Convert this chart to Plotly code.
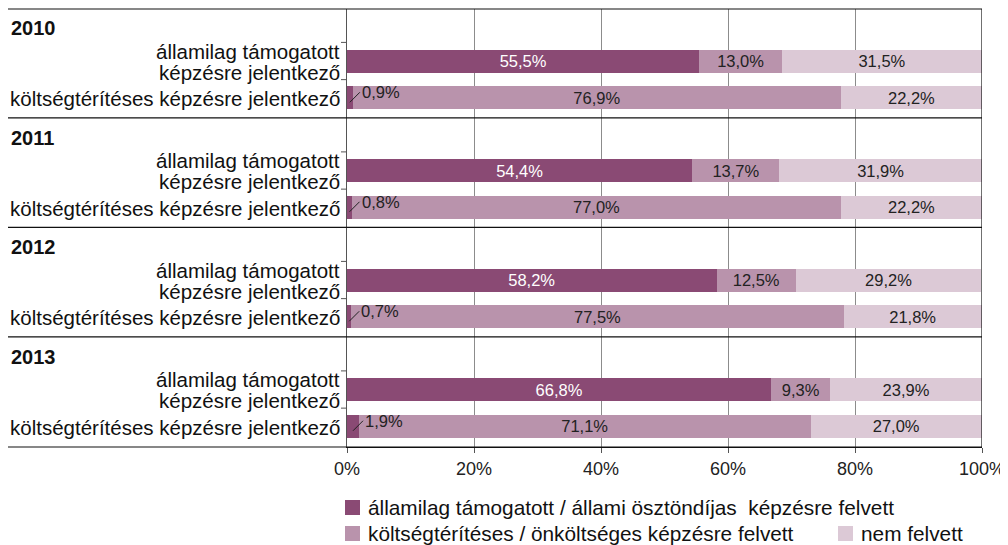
import plotly.graph_objects as go

years = ["2010", "2011", "2012", "2013"]
row_label_state = ["államilag támogatott", "képzésre jelentkező"]
row_label_cost = "költségtérítéses képzésre jelentkező"
series_names = ["államilag támogatott / állami ösztöndíjas  képzésre felvett",
                "költségtérítéses / önköltséges képzésre felvett",
                "nem felvett"]
state_funded = [55.5, 0.9, 54.4, 0.8, 58.2, 0.7, 66.8, 1.9]
self_funded = [13.0, 76.9, 13.7, 77.0, 12.5, 77.5, 9.3, 71.1]
not_admitted = [31.5, 22.2, 31.9, 22.2, 29.2, 21.8, 23.9, 27.0]
x_ticks = [0, 20, 40, 60, 80, 100]
x_ticktext = ["0%", "20%", "40%", "60%", "80%", "100%"]

colors = ["#8a4a74", "#b993ac", "#dcc9d6"]
text_colors = ["white", "#222222", "#222222"]
FONT = "Liberation Sans, Arial, Helvetica, sans-serif"
LABEL_SIZE = 20.5
LEGEND_SIZE = 20.8

# page offset of the figure inside the browser window (body margin)
OFF = 8
W, H = 1008, 545
ML, MR, MT, MB = 339, 34, 1, 106
PW, PH = W - ML - MR, H - MT - MB


def px_x(px):
    """screen x pixel -> paper x"""
    return (px - OFF - ML) / PW


def px_y(py):
    """screen y pixel -> paper y"""
    return (H - MB - (py - OFF)) / PH


# row positions: each year group has a header slot then two bar slots
ypos = []
for g in range(len(years)):
    ypos += [3 * g + 1, 3 * g + 2]


def fmt(v):
    return f"{v:.1f}%".replace(".", ",")


fig = go.Figure()
for name, vals, col, tcol in zip(series_names, [state_funded, self_funded, not_admitted], colors, text_colors):
    texts = [fmt(v) if v >= 5 else "" for v in vals]
    fig.add_trace(go.Bar(
        name=name, x=vals, y=ypos, orientation="h",
        marker=dict(color=col, line=dict(width=0)),
        width=0.63,
        text=texts, textposition="inside", insidetextanchor="middle",
        textangle=0, constraintext="none",
        insidetextfont=dict(family=FONT, size=16.5, color=tcol),
        hoverinfo="x+y", showlegend=False,
    ))

annotations = []
# small-value labels with leader lines
for v, y in zip(state_funded, ypos):
    if v < 5:
        annotations.append(dict(
            x=v / 2, y=y + 0.12, xref="x", yref="y", text=fmt(v),
            showarrow=True, arrowhead=0, arrowwidth=1, arrowcolor="#222222",
            ax=10, ay=-10, xanchor="left", yanchor="middle",
            font=dict(family=FONT, size=16.5, color="#222222")))

# year headers and row labels
for g, yr in enumerate(years):
    annotations.append(dict(
        x=px_x(8.5), y=3 * g + 0.09, xref="paper", yref="y", text="<b>" + yr + "</b>",
        showarrow=False, xanchor="left", yanchor="middle",
        font=dict(family=FONT, size=20, color="#111111")))
    annotations.append(dict(
        x=px_x(342), y=3 * g + 1, xref="paper", yref="y", text=row_label_state[0],
        showarrow=False, xanchor="right", yanchor="middle", yshift=10,
        font=dict(family=FONT, size=LABEL_SIZE, color="#111111")))
    annotations.append(dict(
        x=px_x(342), y=3 * g + 1, xref="paper", yref="y", text=row_label_state[1],
        showarrow=False, xanchor="right", yanchor="middle", yshift=-11,
        font=dict(family=FONT, size=LABEL_SIZE, color="#111111")))
    annotations.append(dict(
        x=px_x(342), y=3 * g + 2, xref="paper", yref="y", text=row_label_cost,
        showarrow=False, xanchor="right", yanchor="middle", yshift=-1,
        font=dict(family=FONT, size=LABEL_SIZE, color="#111111")))

shapes = []
# top and bottom full-width lines
for yp in [0, 1]:
    shapes.append(dict(type="line", xref="paper", yref="paper", x0=px_x(8), x1=1,
                       y0=yp, y1=yp, line=dict(color="#111111", width=1.2)))
# group separators
for g in range(1, len(years)):
    shapes.append(dict(type="line", xref="paper", yref="y", x0=px_x(8), x1=1,
                       y0=3 * g - 0.45, y1=3 * g - 0.45, line=dict(color="#111111", width=1.2)))
# small y tick marks
for g in range(len(years)):
    for off in [0.48, 1.5]:
        shapes.append(dict(type="line", xref="paper", yref="y", x0=px_x(341), x1=0,
                           y0=3 * g + off, y1=3 * g + off, line=dict(color="#555555", width=1)))
# right border
shapes.append(dict(type="line", xref="x", yref="paper", x0=100, x1=100, y0=0, y1=1,
                   line=dict(color="#111111", width=1.2)))

# legend (drawn manually to match the two-row arrangement)
legend_items = [(0, 345, 500), (1, 345, 526), (2, 838, 526)]
for idx, sx, sy in legend_items:
    shapes.append(dict(type="rect", xref="paper", yref="paper",
                       x0=px_x(sx), x1=px_x(sx + 15), y0=px_y(sy), y1=px_y(sy + 15),
                       fillcolor=colors[idx], line=dict(width=0)))
    annotations.append(dict(
        x=px_x(sx + 21), y=px_y(sy + 7.5), xref="paper", yref="paper",
        text=series_names[idx].replace("  ", "&nbsp; "), showarrow=False,
        xanchor="left", yanchor="middle",
        font=dict(family=FONT, size=LEGEND_SIZE, color="#111111")))

fig.update_layout(
    width=W, height=H,
    barmode="stack",
    plot_bgcolor="white", paper_bgcolor="white",
    margin=dict(l=ML, r=MR, t=MT, b=MB, autoexpand=False),
    font=dict(family=FONT, size=18, color="#222222"),
    xaxis=dict(range=[0, 100], tickvals=x_ticks, ticktext=x_ticktext,
               showgrid=True, gridcolor="#8c8c8c", gridwidth=1,
               showline=True, linecolor="#111111", linewidth=1.2,
               ticks="outside", ticklen=5, tickcolor="#555555",
               tickfont=dict(family=FONT, size=18, color="#222222"),
               zeroline=False, fixedrange=True, automargin=False),
    yaxis=dict(range=[11.565, -0.435], showticklabels=False,
               showgrid=False, zeroline=False,
               showline=True, linecolor="#555555", linewidth=1,
               ticks="", fixedrange=True, automargin=False),
    showlegend=False,
    annotations=annotations,
    shapes=shapes,
)

fig.write_html("out.html")
